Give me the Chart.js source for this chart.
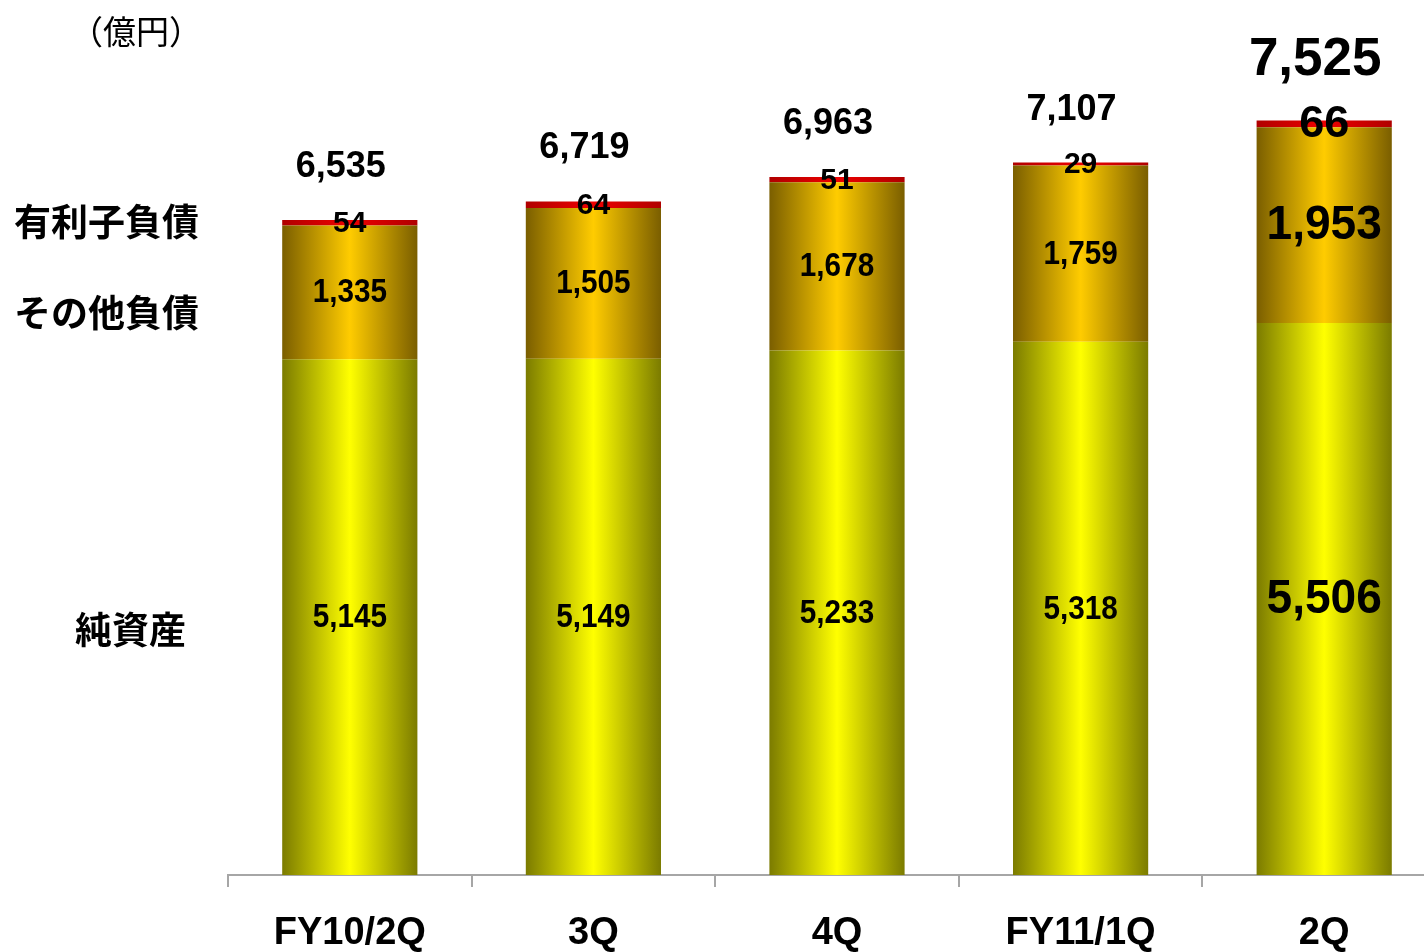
<!DOCTYPE html>
<html>
<head>
<meta charset="utf-8">
<script src="https://cdn.jsdelivr.net/npm/chart.js@4.4.0/dist/chart.umd.min.js"></script>
<style>
  html, body { margin: 0; padding: 0; background: #fff; overflow: hidden; }
  #wrap { position: relative; width: 1450px; height: 952px; }
</style>
</head>
<body>
<div id="wrap"><canvas id="bsChart"></canvas></div>
<script>
// categories and values (億円)
const categories = ['FY10/2Q', '3Q', '4Q', 'FY11/1Q', '2Q'];
const netAssets = [5145, 5149, 5233, 5318, 5506];     // 純資産
const otherLiab = [1335, 1505, 1678, 1759, 1953];     // その他負債
const debt = [54, 64, 51, 29, 66];                    // 有利子負債
const totals = [6535, 6719, 6963, 7107, 7525];

const NUM_FONT = '"Liberation Sans", Arial, sans-serif';
const JP_FONT = '"Noto Sans CJK JP", sans-serif';

// horizontal gradient across each bar: dark edges, bright middle
function barGradient(edge, mid) {
    return function (c) {
        const chart = c.chart;
        const x = chart.scales.x;
        if (!x || !chart.chartArea) return mid;
        const cx = x.getPixelForValue(c.dataIndex);
        const half = (x.width / categories.length) * 0.555 / 2;
        const g = chart.ctx.createLinearGradient(cx - half, 0, cx + half, 0);
        g.addColorStop(0, edge);
        g.addColorStop(0.5, mid);
        g.addColorStop(1, edge);
        return g;
    };
}

// text squeezed a little horizontally, like the original labels
function drawNum(ctx, text, x, y, size, squeeze) {
    ctx.save();
    ctx.translate(x, y);
    ctx.scale(squeeze, 1);
    ctx.font = 'bold ' + size + 'px ' + NUM_FONT;
    ctx.fillText(text, 0, 0);
    ctx.restore();
}

const labelPlugin = {
    id: 'labels',
    afterDatasetsDraw(chart) {
        const ctx = chart.ctx;
        ctx.save();
        ctx.fillStyle = '#000';
        ctx.textAlign = 'center';
        ctx.textBaseline = 'middle';
        const last = categories.length - 1;
        chart.data.datasets.forEach((ds, i) => {
            const meta = chart.getDatasetMeta(i);
            const isDebt = i === 2;
            meta.data.forEach((el, j) => {
                const big = j === last;
                let size, sq;
                if (isDebt) { size = big ? 45 : 30; sq = 1; }
                else { size = big ? 48 : 33; sq = big ? 0.96 : 0.9; }
                drawNum(ctx, ds.data[j].toLocaleString('en-US'), el.x, (el.y + el.base) / 2 + 1, size, sq);
            });
        });
        // totals above each bar
        const top = chart.getDatasetMeta(chart.data.datasets.length - 1);
        ctx.textBaseline = 'bottom';
        top.data.forEach((el, j) => {
            const big = j === last;
            drawNum(ctx, totals[j].toLocaleString('en-US'), el.x - 9, el.y - (big ? 34 : 35), big ? 53 : 36, 1);
        });
        // series names on the left + unit
        ctx.textAlign = 'left';
        ctx.textBaseline = 'middle';
        ctx.font = 'bold 37px ' + JP_FONT;
        ctx.fillText('有利子負債', 14, 222);
        ctx.fillText('その他負債', 14, 313);
        ctx.fillText('純資産', 75, 630);
        ctx.font = '33px ' + JP_FONT;
        ctx.fillText('（億円）', 70, 31);
        ctx.restore();
    }
};

new Chart(document.getElementById('bsChart').getContext('2d'), {
    type: 'bar',
    data: {
        labels: categories,
        datasets: [{
            label: '純資産',
            data: netAssets,
            backgroundColor: barGradient('#7b7b00', '#ffff00')
        },
        {
            label: 'その他負債',
            data: otherLiab,
            backgroundColor: barGradient('#7a5e00', '#ffcc00')
        },
        {
            label: '有利子負債',
            data: debt,
            backgroundColor: barGradient('#b00000', '#ee0000')
        }]
    },
    options: {
        responsive: true,
        maintainAspectRatio: false,
        animation: false,
        categoryPercentage: 1,
        barPercentage: 0.555,
        layout: { padding: { left: 228, right: 4, top: 73, bottom: -29 } },
        scales: {
            x: {
                stacked: true,
                grid: {
                    offset: true,
                    drawOnChartArea: false,
                    drawTicks: true,
                    tickLength: 12,
                    color: '#a6a6a6',
                    lineWidth: 2
                },
                border: { display: true, color: '#a6a6a6', width: 2 },
                ticks: {
                    color: '#000',
                    padding: 28,
                    font: { family: NUM_FONT, size: 38, weight: 'bold', lineHeight: 1 }
                }
            },
            y: {
                stacked: true,
                display: false,
                min: 0,
                max: 8000
            }
        },
        plugins: {
            legend: { display: false },
            tooltip: { enabled: false }
        }
    },
    plugins: [labelPlugin]
});
</script>
</body>
</html>
